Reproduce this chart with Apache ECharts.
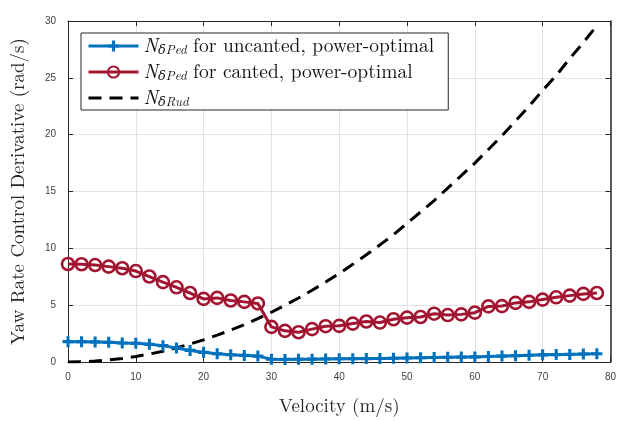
<!DOCTYPE html>
<html>
<head>
<meta charset="utf-8">
<script src="https://cdn.jsdelivr.net/npm/echarts@6/dist/echarts.min.js"></script>
<style>
  html, body { margin: 0; padding: 0; background: #fff; }
  #chart { width: 619px; height: 421px; }
</style>
</head>
<body>
<div id="chart"></div>
<script>
// Velocity samples (m/s)
const velocity = [0, 2, 4, 6, 8, 10, 12, 14, 16, 18, 20, 22, 24, 26, 28, 30, 32, 34, 36, 38,
                  40, 42, 44, 46, 48, 50, 52, 54, 56, 58, 60, 62, 64, 66, 68, 70, 72, 74, 76, 78];

// Pedal yaw-rate control derivative, uncanted rotors (power-optimal)
const uncanted = [1.79, 1.79, 1.77, 1.73, 1.67, 1.64, 1.56, 1.44, 1.24, 1.02,
                  0.85, 0.72, 0.64, 0.58, 0.52, 0.24, 0.23, 0.24, 0.25, 0.27,
                  0.28, 0.29, 0.30, 0.31, 0.33, 0.35, 0.37, 0.39, 0.41, 0.43,
                  0.45, 0.49, 0.52, 0.56, 0.59, 0.63, 0.65, 0.67, 0.70, 0.72];

// Pedal yaw-rate control derivative, canted rotors (power-optimal)
const canted = [8.62, 8.60, 8.53, 8.39, 8.25, 8.00, 7.52, 7.03, 6.57, 6.07,
                5.55, 5.64, 5.41, 5.29, 5.15, 3.09, 2.74, 2.62, 2.89, 3.15,
                3.18, 3.38, 3.56, 3.47, 3.76, 3.90, 3.96, 4.25, 4.13, 4.19,
                4.34, 4.89, 4.92, 5.20, 5.29, 5.49, 5.69, 5.84, 5.99, 6.07];

// Rudder yaw-rate control derivative
const rudder = [0.00, 0.02, 0.08, 0.18, 0.31, 0.49, 0.70, 0.95, 1.25, 1.58,
                1.95, 2.36, 2.80, 3.29, 3.82, 4.38, 4.99, 5.63, 6.31, 7.03,
                7.79, 8.59, 9.43, 10.3, 11.2, 12.2, 13.2, 14.2, 15.3, 16.4,
                17.5, 18.7, 19.9, 21.2, 22.5, 23.9, 25.2, 26.7, 28.1, 29.6];

const xTicks = { min: 0, max: 80, interval: 10 };
const yTicks = { min: 0, max: 30, interval: 5 };

const legendText = {
  uncanted: '{n|N}{s|δPed}{t| for uncanted, power-optimal}',
  canted: '{n|N}{s|δPed}{t| for canted, power-optimal}',
  rudder: '{n|N}{s|δRud}'
};

const pair = arr => velocity.map((v, i) => [v, arr[i]]);

const plusPath = 'path://M3.6,0h2.8v3.6h3.6v2.8h-3.6v3.6h-2.8v-3.6h-3.6v-2.8h3.6z';

const axisColor = '#262626';
const serif = '"Latin Modern Roman", "DejaVu Serif", "Liberation Serif", serif';

const chart = echarts.init(document.getElementById('chart'));
chart.setOption({
  backgroundColor: '#ffffff',
  animation: false,
  grid: { left: 68, right: 6, top: 21, bottom: 53, show: false },
  legend: {
    orient: 'vertical',
    left: 81,
    top: 33,
    data: [
      { name: 'uncanted', lineStyle: { width: 3 } },
      { name: 'canted', lineStyle: { width: 3 } },
      { name: 'rudder', lineStyle: { width: 3 }, itemStyle: { opacity: 0 } }
    ],
    backgroundColor: '#ffffff',
    borderColor: '#262626',
    borderWidth: 1,
    padding: [2, 14, 1, 6],
    itemGap: 4,
    itemWidth: 50,
    itemHeight: 14,
    formatter: name => legendText[name],
    textStyle: {
      fontFamily: serif,
      fontSize: 19.5,
      color: '#111',
      rich: {
        n: { fontFamily: serif, fontSize: 19.5, fontStyle: 'italic', color: '#111', lineHeight: 20 },
        s: { fontFamily: serif, fontSize: 13, fontStyle: 'italic', color: '#111', padding: [9, 0, 0, 0], lineHeight: 20 },
        t: { fontFamily: serif, fontSize: 19.5, color: '#111', lineHeight: 20 }
      }
    }
  },
  xAxis: [{
    type: 'value',
    min: xTicks.min, max: xTicks.max, interval: xTicks.interval,
    name: 'Velocity (m/s)',
    nameLocation: 'middle',
    nameGap: 35,
    nameTextStyle: { fontFamily: serif, fontSize: 19, color: '#262626' },
    axisLine: { show: true, lineStyle: { color: axisColor, width: 1 } },
    axisTick: { show: true, inside: true, length: 5, lineStyle: { color: axisColor } },
    axisLabel: { fontFamily: 'Liberation Sans, Arial, sans-serif', fontSize: 10, color: '#404040', margin: 10 },
    splitLine: { show: true, lineStyle: { color: '#e3e3e3', width: 1 } }
  }, {
    type: 'value', position: 'top',
    min: xTicks.min, max: xTicks.max, interval: xTicks.interval,
    axisLine: { show: true, onZero: false, lineStyle: { color: axisColor, width: 1 } },
    axisTick: { show: true, inside: true, length: 5, lineStyle: { color: axisColor } },
    axisLabel: { show: false },
    splitLine: { show: false }
  }],
  yAxis: [{
    type: 'value',
    min: yTicks.min, max: yTicks.max, interval: yTicks.interval,
    name: 'Yaw Rate Control Derivative (rad/s)',
    nameLocation: 'middle',
    nameGap: 40,
    nameTextStyle: { fontFamily: serif, fontSize: 19, color: '#262626' },
    axisLine: { show: true, lineStyle: { color: axisColor, width: 1 } },
    axisTick: { show: true, inside: true, length: 5, lineStyle: { color: axisColor } },
    axisLabel: { fontFamily: 'Liberation Sans, Arial, sans-serif', fontSize: 10, color: '#404040', margin: 12 },
    splitLine: { show: true, lineStyle: { color: '#e3e3e3', width: 1 } }
  }, {
    type: 'value', position: 'right',
    min: yTicks.min, max: yTicks.max, interval: yTicks.interval,
    axisLine: { show: true, onZero: false, lineStyle: { color: axisColor, width: 1.5 } },
    axisTick: { show: true, inside: true, length: 5, lineStyle: { color: axisColor } },
    axisLabel: { show: false },
    splitLine: { show: false }
  }],
  series: [{
    name: 'uncanted',
    type: 'line',
    data: pair(uncanted),
    symbol: plusPath,
    symbolSize: 11,
    showAllSymbol: true,
    lineStyle: { color: '#0072BD', width: 3 },
    itemStyle: { color: '#0072BD' },
    z: 3
  }, {
    name: 'canted',
    type: 'line',
    data: pair(canted),
    symbol: 'circle',
    symbolSize: 12,
    showAllSymbol: true,
    lineStyle: { color: '#A2142F', width: 3 },
    itemStyle: { color: 'rgba(255,255,255,0)', borderColor: '#A2142F', borderWidth: 2.6 },
    z: 3
  }, {
    name: 'rudder',
    type: 'line',
    data: pair(rudder),
    symbol: 'none',
    lineStyle: { color: '#000000', width: 3, type: [13, 8] },
    itemStyle: { color: '#000000' },
    z: 2
  }]
});
</script>
</body>
</html>
